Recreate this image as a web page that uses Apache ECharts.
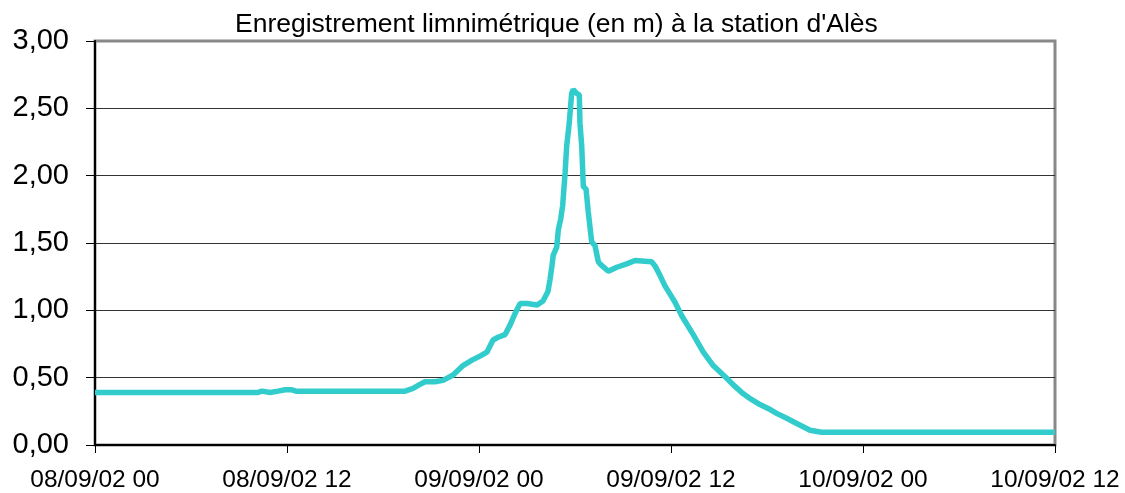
<!DOCTYPE html>
<html>
<head>
<meta charset="utf-8">
<script src="https://cdn.jsdelivr.net/npm/echarts@6/dist/echarts.min.js"></script>
<style>
html,body{margin:0;padding:0;background:#fff;}
#chart{width:1125px;height:493px;}
</style>
</head>
<body>
<div id="chart"></div>
<script>
var titleText = "Enregistrement limnimétrique (en m) à la station d'Alès";
var xTickLabels = ['08/09/02 00', '08/09/02 12', '09/09/02 00', '09/09/02 12', '10/09/02 00', '10/09/02 12'];
var yTickLabels = ['0,00', '0,50', '1,00', '1,50', '2,00', '2,50', '3,00'];
// hours since 08/09/02 00
var hours = [0, 10.19, 10.44, 10.94, 11.44, 11.88, 12.31, 12.56, 19.38, 19.88, 20.31, 20.63, 21.25, 21.75,
  22.38, 23.0, 23.56, 24.06, 24.5, 24.88, 25.19, 25.63, 25.94, 26.25, 26.56, 27.0, 27.63, 28.0, 28.31,
  28.44, 28.56, 28.64, 28.86, 28.96, 29.11, 29.23, 29.38, 29.48, 29.64, 29.79, 29.89, 30.11, 30.27,
  30.31, 30.42, 30.52, 30.69, 30.83, 31.04, 31.25, 31.46, 31.56, 32.08, 32.61, 33.23, 33.75, 34.79,
  35.0, 35.31, 35.63, 35.94, 36.25, 36.67, 37.39, 38.02, 38.64, 39.48, 40.0, 40.52, 41.0, 41.56,
  42.1, 42.6, 43.2, 43.86, 44.69, 45.42, 60];
// water level (m)
var levels = [0.39, 0.39, 0.40, 0.39, 0.40, 0.41, 0.41, 0.40, 0.40, 0.42, 0.45, 0.47, 0.47, 0.48,
  0.52, 0.59, 0.63, 0.66, 0.69, 0.78, 0.80, 0.82, 0.89, 0.975, 1.05, 1.05, 1.04, 1.07, 1.14,
  1.23, 1.33, 1.41, 1.47, 1.60, 1.68, 1.78, 2.02, 2.22, 2.39, 2.61, 2.64, 2.61, 2.60,
  2.39, 2.22, 1.92, 1.90, 1.73, 1.51, 1.48, 1.36, 1.345, 1.29, 1.32, 1.345, 1.37, 1.36,
  1.33, 1.26, 1.18, 1.12, 1.06, 0.96, 0.82, 0.69, 0.59, 0.495, 0.435, 0.38, 0.34, 0.30,
  0.27, 0.235, 0.20, 0.16, 0.11, 0.095, 0.095];

var seriesData = hours.map(function (h, i) { return [h, levels[i]]; });

var chart = echarts.init(document.getElementById('chart'), null, {renderer: 'canvas'});
chart.setOption({
  animation: false,
  backgroundColor: '#ffffff',
  title: {
    text: titleText,
    left: 230,
    top: 6,
    textStyle: {fontFamily: 'Liberation Sans, Arial, sans-serif', fontSize: 26.5, fontWeight: 'normal', color: '#000'}
  },
  grid: {
    left: 95, right: 70, top: 41, bottom: 46,
    show: true, borderColor: '#888888', borderWidth: 3, backgroundColor: 'transparent'
  },
  xAxis: {
    type: 'value', min: 0, max: 60, interval: 12,
    axisLine: {show: true, onZero: false, lineStyle: {color: '#000', width: 2}},
    axisTick: {show: true, inside: false, length: 8, lineStyle: {color: '#000', width: 1}},
    splitLine: {show: false},
    axisLabel: {
      margin: 23, color: '#000', fontSize: 24.5, fontFamily: 'Liberation Sans, Arial, sans-serif',
      formatter: function (v) { return xTickLabels[Math.round(v / 12)]; }
    }
  },
  yAxis: {
    type: 'value', min: 0, max: 3, interval: 0.5,
    axisLine: {show: true, lineStyle: {color: '#000', width: 2}},
    axisTick: {show: true, inside: false, length: 9, lineStyle: {color: '#000', width: 1}},
    splitLine: {show: true, lineStyle: {color: ['#333', '#333', '#333', '#333', '#333', '#333', '#888'], width: 1}},
    axisLabel: {
      margin: 26, color: '#000', fontSize: 29, fontFamily: 'Liberation Sans, Arial, sans-serif',
      formatter: function (v) { return yTickLabels[Math.round(v / 0.5)]; }
    }
  },
  series: [{
    type: 'line',
    data: seriesData,
    showSymbol: false,
    smooth: false,
    lineStyle: {color: '#33CCCC', width: 5.5},
    itemStyle: {color: '#33CCCC'}
  }]
});
</script>
</body>
</html>
